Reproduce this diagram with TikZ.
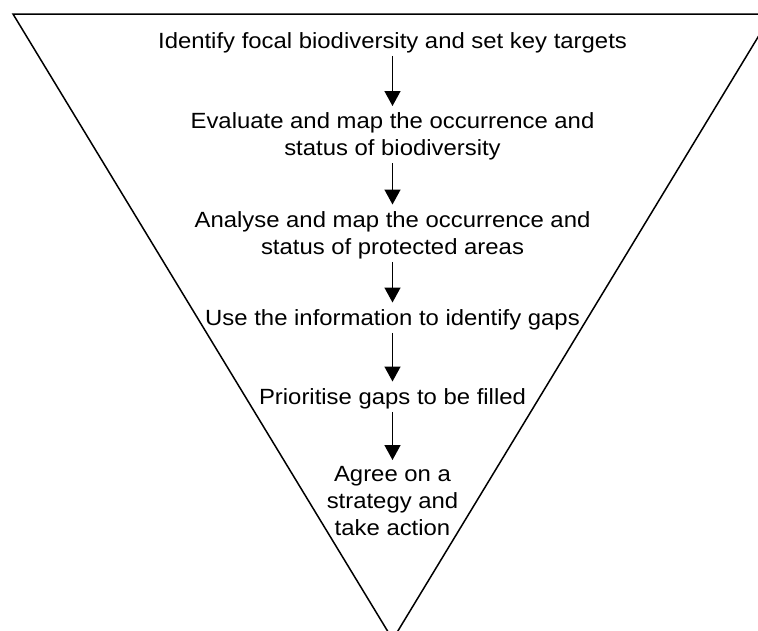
\documentclass[tikz,border=0pt]{standalone}
\usepackage{fontspec}
\setmainfont[FakeStretch=1.086]{Liberation Sans}
\usetikzlibrary{arrows.meta}
\tikzset{>={Triangle[length=15pt,width=16pt]}}
\tikzset{stage/.style={align=center,inner sep=0pt,anchor=north,font=\fontsize{22}{27}\selectfont}}
\tikzset{flow/.style={->,line width=1.5pt,shorten <=3pt,shorten >=6.5pt}}

\begin{document}
\begin{tikzpicture}[x=1pt,y=-1pt]
    \useasboundingbox (0,0) rectangle (758,630);
    \clip (0,0) rectangle (758,630);
    % funnel
    \draw[line width=1.5pt] (13,14) -- (772,14) -- (392.7,639.5) -- cycle;
    % steps
    \node[stage] (identify) at (392.5,32) {Identify focal biodiversity and set key targets};
    \node[stage] (evaluate) at (392.5,112.5) {Evaluate and map the occurrence and\\status of biodiversity};
    \node[stage] (analyse) at (392.5,211) {Analyse and map the occurrence and\\status of protected areas};
    \node[stage] (gaps) at (392.5,309) {Use the information to identify gaps};
    \node[stage] (prioritise) at (392.5,388) {Prioritise gaps to be filled};
    \node[stage] (agree) at (392.5,466.5) {Agree on a\\strategy and\\take action};
    \draw[flow] (identify.south) -- (evaluate.north);
    \draw[flow] (evaluate.south) -- (analyse.north);
    \draw[flow] (analyse.south) -- (gaps.north);
    \draw[flow] (gaps.south) -- (prioritise.north);
    \draw[flow] (prioritise.south) -- (agree.north);
\end{tikzpicture}
\end{document}
